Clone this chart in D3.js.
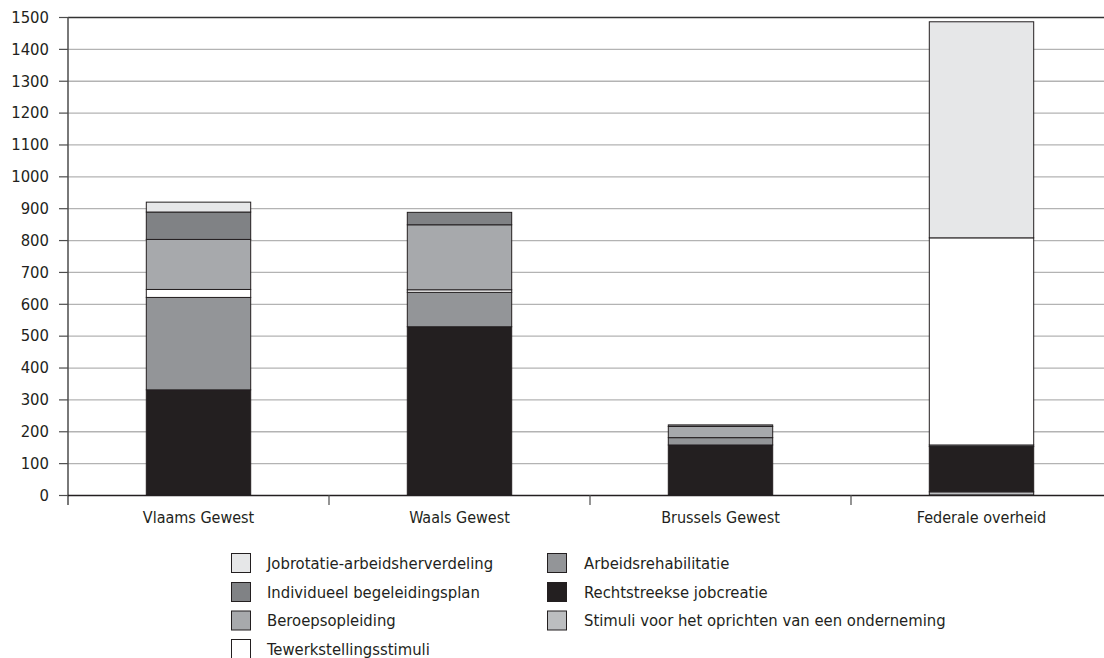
<!DOCTYPE html>
<html>
<head>
<meta charset="utf-8">
<script src="https://cdn.jsdelivr.net/npm/d3@7"></script>
<style>
  html, body { margin: 0; padding: 0; background: #fff; }
  svg { display: block; }
  text { font-family: "DejaVu Sans Condensed", "DejaVu Sans", sans-serif; fill: #231f20; }
</style>
</head>
<body>
<svg id="chart" width="1104" height="658"></svg>
<script>
const categories = ["Vlaams Gewest", "Waals Gewest", "Brussels Gewest", "Federale overheid"];
const yTicks = [0, 100, 200, 300, 400, 500, 600, 700, 800, 900, 1000, 1100, 1200, 1300, 1400, 1500];

// series listed bottom-to-top of the stack
const seriesNames = [
  "Stimuli voor het oprichten van een onderneming",
  "Rechtstreekse jobcreatie",
  "Arbeidsrehabilitatie",
  "Tewerkstellingsstimuli",
  "Beroepsopleiding",
  "Individueel begeleidingsplan",
  "Jobrotatie-arbeidsherverdeling"
];
const stimuli        = [0,   0,   0,   10];
const rechtstreekse  = [330, 528, 157, 142];
const arbeidsrehab   = [290, 108, 23,  5];
const tewerkstelling = [25,  8,   0,   650];
const beroeps        = [157, 204, 35,  0];
const individueel    = [86,  39,  5,   0];
const jobrotatie     = [31,  0,   0,   678];
const seriesValues = [stimuli, rechtstreekse, arbeidsrehab, tewerkstelling, beroeps, individueel, jobrotatie];
const seriesColors = ["#bcbec0", "#231f20", "#939598", "#ffffff", "#a7a9ac", "#808285", "#e6e7e8"];

// legend order (column-wise)
const legendOrder = [
  "Jobrotatie-arbeidsherverdeling",
  "Individueel begeleidingsplan",
  "Beroepsopleiding",
  "Tewerkstellingsstimuli",
  "Arbeidsrehabilitatie",
  "Rechtstreekse jobcreatie",
  "Stimuli voor het oprichten van een onderneming"
];

(function () {
const svg = d3.select("#chart");
const mLeft = 68, mRight = 1112, mTop = 17, mBottom = 495;
const fontFam = '"DejaVu Sans Condensed", "DejaVu Sans", sans-serif';

const x = d3.scaleBand().domain(categories).range([mLeft, mRight]).paddingInner(0.6).paddingOuter(0.3);
const y = d3.scaleLinear().domain([0, 1500]).range([mBottom, mTop]);

const table = categories.map((c, i) => {
  const row = { category: c };
  seriesNames.forEach((s, j) => row[s] = seriesValues[j][i]);
  return row;
});
const stacked = d3.stack().keys(seriesNames)(table);
const color = d3.scaleOrdinal().domain(seriesNames).range(seriesColors);

// gridlines
svg.append("g").selectAll("line").data(yTicks.filter(t => t > 0 && t < 1500)).join("line")
  .attr("x1", mLeft).attr("x2", 1104)
  .attr("y1", d => y(d) + 0.5).attr("y2", d => y(d) + 0.5)
  .attr("stroke", "#b3b3b3").attr("stroke-width", 1.3);
// top line
svg.append("line").attr("x1", mLeft).attr("x2", 1104)
  .attr("y1", y(1500) + 0.5).attr("y2", y(1500) + 0.5)
  .attr("stroke", "#333").attr("stroke-width", 1.3);

// bars
svg.append("g").selectAll("g").data(stacked).join("g")
  .attr("fill", d => color(d.key))
  .selectAll("rect").data(d => d.filter(p => p[1] - p[0] > 0)).join("rect")
  .attr("x", d => x(d.data.category))
  .attr("width", x.bandwidth())
  .attr("y", d => y(d[1]))
  .attr("height", d => y(d[0]) - y(d[1]))
  .attr("stroke", "#231f20").attr("stroke-width", 1);

// y axis
const yAxis = d3.axisLeft(y).tickValues(yTicks).tickSize(9).tickPadding(10).tickFormat(d3.format("d"));
const gy = svg.append("g").attr("transform", `translate(${mLeft},0)`).call(yAxis);
gy.select(".domain").attr("stroke", "#4d4d4d").attr("stroke-width", 1.5).attr("d", `M0,${mTop}V${mBottom + 10}`);
gy.selectAll(".tick line").attr("stroke", "#4d4d4d").attr("stroke-width", 1.2);
gy.selectAll(".tick text").style("font-size", "16.5px").attr("fill", "#231f20").style("font-family", fontFam);

// x axis
const xAxis = d3.axisBottom(x).tickSize(0).tickPadding(17);
const gx = svg.append("g").attr("transform", `translate(0,${mBottom})`).call(xAxis);
gx.select(".domain").attr("stroke", "#231f20").attr("stroke-width", 1.3).attr("d", `M${mLeft},0.5H1104`);
gx.selectAll(".tick text").style("font-size", "16px").attr("fill", "#231f20").style("font-family", fontFam);
// band boundary ticks
const step = x.step();
const boundaries = categories.slice(1).map(c => x(c) - (step - x.bandwidth()) / 2);
svg.append("g").selectAll("line").data(boundaries).join("line")
  .attr("x1", d => d).attr("x2", d => d)
  .attr("y1", mBottom).attr("y2", mBottom + 10)
  .attr("stroke", "#4d4d4d").attr("stroke-width", 1.2);

// legend
const legendPos = [
  [231, 553], [231, 582], [231, 610.5], [231, 639],
  [547, 553], [547, 582], [547, 610.5]
];
const lg = svg.append("g").selectAll("g").data(legendOrder).join("g")
  .attr("transform", (d, i) => `translate(${legendPos[i][0]},${legendPos[i][1]})`);
lg.append("rect").attr("x", 0.5).attr("y", 0.5).attr("width", 19).attr("height", 19)
  .attr("fill", d => color(d)).attr("stroke", "#231f20").attr("stroke-width", 1);
lg.append("text").attr("x", (d, i) => i < 4 ? 36 : 37).attr("y", 15.5)
  .style("font-size", "16.5px").style("font-family", fontFam).text(d => d);
})();
</script>
</body>
</html>
